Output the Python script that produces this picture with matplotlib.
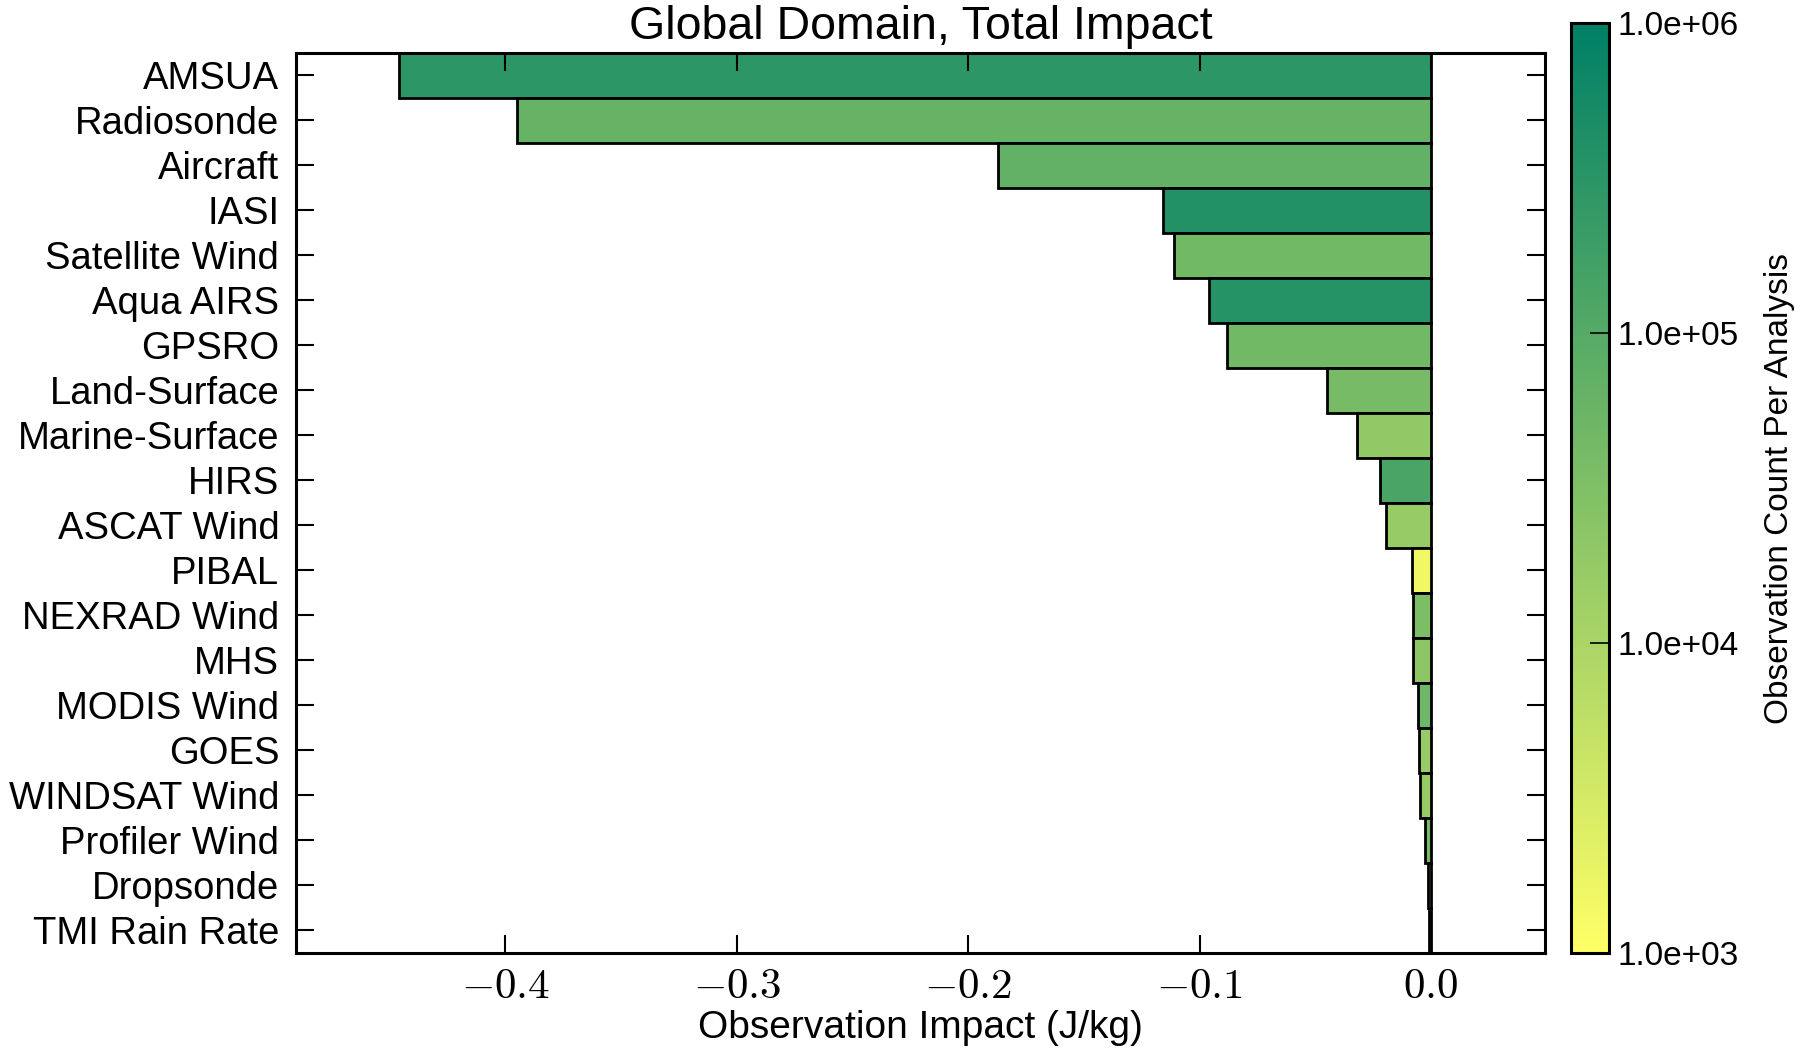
import matplotlib
matplotlib.use("Agg")
import matplotlib.pyplot as plt
import numpy as np
from matplotlib.colors import LogNorm
from matplotlib.cm import ScalarMappable

categories = ["AMSUA", "Radiosonde", "Aircraft", "IASI", "Satellite Wind", "Aqua AIRS",
              "GPSRO", "Land-Surface", "Marine-Surface", "HIRS", "ASCAT Wind", "PIBAL",
              "NEXRAD Wind", "MHS", "MODIS Wind", "GOES", "WINDSAT Wind", "Profiler Wind",
              "Dropsonde", "TMI Rain Rate"]
impact = [-0.446, -0.395, -0.187, -0.116, -0.111, -0.096, -0.088, -0.045, -0.032, -0.022,
          -0.0195, -0.0083, -0.0079, -0.0077, -0.0058, -0.0052, -0.0046, -0.0025, -0.0013, -0.0008]
obs_count = [2.9e5, 6.3e4, 7.0e4, 3.9e5, 4.5e4, 3.5e5, 4.5e4, 4.0e4, 1.9e4, 1.35e5,
             1.7e4, 1.5e3, 3.5e4, 2.2e4, 5.0e4, 1.7e4, 1.7e4, 4.0e4, 3.0e3, 2.0e4]
xticks = [-0.4, -0.3, -0.2, -0.1, 0.0]
cbar_ticks = [1e3, 1e4, 1e5, 1e6]

plt.rcParams['font.family'] = ['Liberation Sans', 'DejaVu Sans']
plt.rcParams['mathtext.fontset'] = 'cm'

W, H = 1809, 1048
fig = plt.figure(figsize=(W / 100, H / 100), dpi=100)
ax = fig.add_axes([296 / W, 1 - 953 / H, (1545 - 296) / W, (953 - 53) / H])
cax = fig.add_axes([1571 / W, 1 - 953 / H, (1609 - 1571) / W, (953 - 23) / H])

norm = LogNorm(vmin=1e3, vmax=1e6)
cmap = plt.get_cmap('summer_r')
y = np.arange(len(categories))
ax.barh(y, impact, height=1.0, color=cmap(norm(obs_count)), edgecolor='black',
        linewidth=2.0)

ax.set_ylim(len(categories) - 0.5, -0.5)
ax.set_xlim(-0.4905, 0.0493)
ax.set_yticks(y)
ax.set_yticklabels(categories, fontsize=27.5)
ax.set_xticks(xticks)
ax.set_xticklabels([r'$%s$' % ('-' + format(abs(v), '.1f') if v < 0 else format(v, '.1f')) for v in xticks],
                   fontsize=31)
ax.tick_params(axis='both', direction='in', length=13, width=1.5, top=True, right=True)
ax.tick_params(axis='y', pad=12)
ax.tick_params(axis='x', pad=10)
for s in ax.spines.values():
    s.set_linewidth(2.2)
ax.set_xlabel("Observation Impact (J/kg)", fontsize=28, labelpad=2)
ax.set_title("Global Domain, Total Impact", fontsize=33.5, pad=10)

sm = ScalarMappable(norm=norm, cmap=cmap)
cb = fig.colorbar(sm, cax=cax, ticks=cbar_ticks)
cax.minorticks_off()
cb.set_ticks(cbar_ticks)
cb.set_ticklabels(['%.1e' % v for v in cbar_ticks])
cax.tick_params(direction='in', length=14, width=1.2, labelsize=24, pad=6)
cb.outline.set_linewidth(2.2)
cb.set_label("Observation Count Per Analysis", fontsize=24, labelpad=18)

fig.savefig("out.png", dpi=100)
